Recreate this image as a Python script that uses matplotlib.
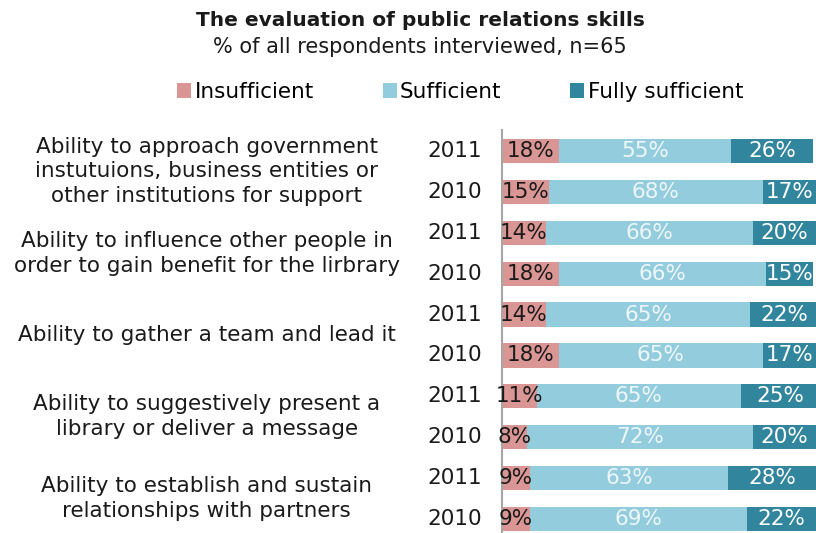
import numpy as np
import matplotlib
matplotlib.use('agg')
from matplotlib import pyplot as plt

# survey shares per skill and year (percent)
skills = ["Ability to approach government\ninstutuions, business entities or\nother institutions for support",
          "Ability to influence other people in\norder to gain benefit for the lirbrary",
          "Ability to gather a team and lead it",
          "Ability to suggestively present a\nlibrary or deliver a message",
          "Ability to establish and sustain\nrelationships with partners"]
years = ["2011", "2010", "2011", "2010", "2011", "2010", "2011", "2010", "2011", "2010"]
insufficient = [18, 15, 14, 18, 14, 18, 11, 8, 9, 9]
sufficient = [55, 68, 66, 66, 65, 65, 65, 72, 63, 69]
fully = [26, 17, 20, 15, 22, 17, 25, 20, 28, 22]

COL_INS = '#D99694'
COL_SUF = '#93CDDD'
COL_FULL = '#31859C'
TXT = '#1a1a1a'

W, H = 816, 533
fig = plt.figure(figsize=(W / 100, H / 100), dpi=100)
ax = fig.add_axes([502 / W, 0, 1 - 502 / W, (533 - 130) / H])

y = np.arange(len(years))
bh = 0.59
ins = np.array(insufficient)
suf = np.array(sufficient)
full = np.array(fully)

ax.barh(y, ins, height=bh, color=COL_INS, label='Insufficient')
ax.barh(y, suf, left=ins, height=bh, color=COL_SUF, label='Sufficient')
ax.barh(y, full, left=ins + suf, height=bh, color=COL_FULL, label='Fully sufficient')

fs = 15.5
for i in range(len(years)):
    ax.text(ins[i] / 2, y[i], f"{ins[i]}%", ha='center', va='center', fontsize=fs, color=TXT)
    ax.text(ins[i] + suf[i] / 2, y[i], f"{suf[i]}%", ha='center', va='center', fontsize=fs, color='#EEF6F9')
    ax.text(ins[i] + suf[i] + full[i] / 2, y[i], f"{full[i]}%", ha='center', va='center', fontsize=fs, color='white')
    ax.text(-6.5, y[i], years[i], ha='right', va='center', fontsize=fs, color=TXT)

ax.set_xlim(0, 100)
ax.set_ylim(9.34, -0.51)
ax.set_xticks([])
ax.set_yticks([])
for s in ['top', 'right', 'bottom']:
    ax.spines[s].set_visible(False)
ax.spines['left'].set_color('#A6A6A6')
ax.spines['left'].set_linewidth(1.5)

# skill names centred between their two year rows
for k, name in enumerate(skills):
    yc = 2 * k + 0.5
    ax.text(-94, yc, name, ha='center', va='center', fontsize=fs, color=TXT,
            linespacing=1.3, clip_on=False)

fig.text(0.515, 1 - 20 / H, "The evaluation of public relations skills", ha='center', va='center',
         fontsize=14.5, fontweight='bold', color=TXT)
fig.text(0.515, 1 - 47 / H, "% of all respondents interviewed, n=65", ha='center', va='center',
         fontsize=15, color=TXT)

handles, labels = ax.get_legend_handles_labels()
fig.legend(handles, labels, loc='center', bbox_to_anchor=(0.564, 1 - 92 / H), ncol=3, frameon=False,
           fontsize=15.5, handlelength=0.65, handleheight=0.65, handletextpad=0.15, columnspacing=3.2)

fig.savefig('out.png', dpi=100)
